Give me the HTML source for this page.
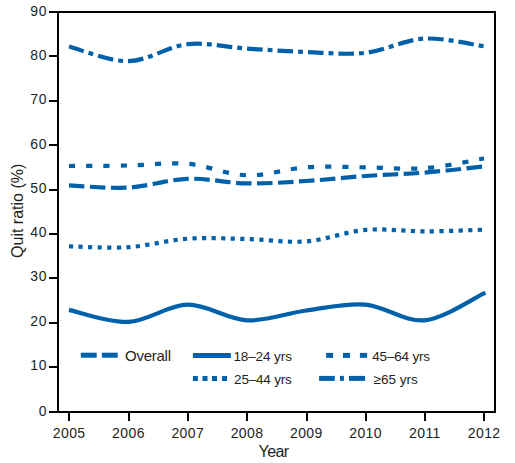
<!DOCTYPE html><html><head><meta charset="utf-8"><style>html,body{margin:0;padding:0;background:#fff;}svg{display:block;}text{font-family:"Liberation Sans",sans-serif;fill:#231f20;}</style></head><body>
<svg width="515" height="463" viewBox="0 0 515 463">
<path d="M58,12 H495 V412 H58 Z" fill="none" stroke="#000" stroke-width="2"/>
<line x1="49" y1="412.00" x2="58" y2="412.00" stroke="#000" stroke-width="2"/>
<text x="47.1" y="416" font-size="14" text-anchor="end" letter-spacing="0.6">0</text>
<line x1="49" y1="367.00" x2="58" y2="367.00" stroke="#000" stroke-width="2"/>
<text x="47.1" y="370" font-size="14" text-anchor="end" letter-spacing="0.6">10</text>
<line x1="49" y1="323.00" x2="58" y2="323.00" stroke="#000" stroke-width="2"/>
<text x="47.1" y="326" font-size="14" text-anchor="end" letter-spacing="0.6">20</text>
<line x1="49" y1="278.00" x2="58" y2="278.00" stroke="#000" stroke-width="2"/>
<text x="47.1" y="281" font-size="14" text-anchor="end" letter-spacing="0.6">30</text>
<line x1="49" y1="234.00" x2="58" y2="234.00" stroke="#000" stroke-width="2"/>
<text x="47.1" y="237" font-size="14" text-anchor="end" letter-spacing="0.6">40</text>
<line x1="49" y1="190.00" x2="58" y2="190.00" stroke="#000" stroke-width="2"/>
<text x="47.1" y="193" font-size="14" text-anchor="end" letter-spacing="0.6">50</text>
<line x1="49" y1="145.00" x2="58" y2="145.00" stroke="#000" stroke-width="2"/>
<text x="47.1" y="149" font-size="14" text-anchor="end" letter-spacing="0.6">60</text>
<line x1="49" y1="101.00" x2="58" y2="101.00" stroke="#000" stroke-width="2"/>
<text x="47.1" y="104" font-size="14" text-anchor="end" letter-spacing="0.6">70</text>
<line x1="49" y1="56.00" x2="58" y2="56.00" stroke="#000" stroke-width="2"/>
<text x="47.1" y="60" font-size="14" text-anchor="end" letter-spacing="0.6">80</text>
<line x1="49" y1="12.00" x2="58" y2="12.00" stroke="#000" stroke-width="2"/>
<text x="47.1" y="16" font-size="14" text-anchor="end" letter-spacing="0.6">90</text>
<line x1="69" y1="412" x2="69" y2="421" stroke="#000" stroke-width="2"/>
<text x="69.20" y="438.2" font-size="14" text-anchor="middle" letter-spacing="0.4">2005</text>
<line x1="129" y1="412" x2="129" y2="421" stroke="#000" stroke-width="2"/>
<text x="128.49" y="438.2" font-size="14" text-anchor="middle" letter-spacing="0.4">2006</text>
<line x1="188" y1="412" x2="188" y2="421" stroke="#000" stroke-width="2"/>
<text x="187.77" y="438.2" font-size="14" text-anchor="middle" letter-spacing="0.4">2007</text>
<line x1="247" y1="412" x2="247" y2="421" stroke="#000" stroke-width="2"/>
<text x="247.06" y="438.2" font-size="14" text-anchor="middle" letter-spacing="0.4">2008</text>
<line x1="307" y1="412" x2="307" y2="421" stroke="#000" stroke-width="2"/>
<text x="306.34" y="438.2" font-size="14" text-anchor="middle" letter-spacing="0.4">2009</text>
<line x1="366" y1="412" x2="366" y2="421" stroke="#000" stroke-width="2"/>
<text x="365.63" y="438.2" font-size="14" text-anchor="middle" letter-spacing="0.4">2010</text>
<line x1="425" y1="412" x2="425" y2="421" stroke="#000" stroke-width="2"/>
<text x="424.91" y="438.2" font-size="14" text-anchor="middle" letter-spacing="0.4">2011</text>
<line x1="484" y1="412" x2="484" y2="421" stroke="#000" stroke-width="2"/>
<text x="484.20" y="438.2" font-size="14" text-anchor="middle" letter-spacing="0.4">2012</text>
<text x="273.5" y="456.8" font-size="16" text-anchor="middle" letter-spacing="-0.6">Year</text>
<text transform="translate(23,210.8) rotate(-90)" font-size="16" text-anchor="middle">Quit ratio (%)</text>
<path d="M69.00,46.50 C78.88,48.95 108.52,61.58 128.29,61.20 C148.05,60.82 167.81,46.30 187.57,44.20 C207.33,42.10 227.10,47.30 246.86,48.60 C266.62,49.90 286.38,51.30 306.14,52.00 C325.90,52.70 345.67,55.03 365.43,52.80 C385.19,50.57 404.95,39.68 424.71,38.60 C444.48,37.52 474.12,45.02 484.00,46.30" fill="none" stroke="#0061ab" stroke-width="4.2" stroke-dasharray="15.6 5 4.9 5"/>
<path d="M69.00,166.00 C78.88,165.92 108.52,165.87 128.29,165.50 C148.05,165.13 167.81,162.17 187.57,163.80 C207.33,165.43 227.10,174.72 246.86,175.30 C266.62,175.88 286.38,168.63 306.14,167.30 C325.90,165.97 345.67,167.15 365.43,167.30 C385.19,167.45 404.95,169.67 424.71,168.20 C444.48,166.73 474.12,160.12 484.00,158.50" fill="none" stroke="#0061ab" stroke-width="4.2" stroke-dasharray="6.2 11"/>
<path d="M69.00,185.40 C78.88,185.77 108.52,188.70 128.29,187.60 C148.05,186.50 167.81,179.50 187.57,178.80 C207.33,178.10 227.10,183.03 246.86,183.40 C266.62,183.77 286.38,182.23 306.14,181.00 C325.90,179.77 345.67,177.40 365.43,176.00 C385.19,174.60 404.95,174.18 424.71,172.60 C444.48,171.02 474.12,167.52 484.00,166.50" fill="none" stroke="#0061ab" stroke-width="4.2" stroke-dasharray="15.5 5.5"/>
<path d="M69.00,246.40 C78.88,246.53 108.52,248.48 128.29,247.20 C148.05,245.92 167.81,240.07 187.57,238.70 C207.33,237.33 227.10,238.55 246.86,239.00 C266.62,239.45 286.38,242.92 306.14,241.40 C325.90,239.88 345.67,231.57 365.43,229.90 C385.19,228.23 404.95,231.43 424.71,231.40 C444.48,231.37 474.12,229.98 484.00,229.70" fill="none" stroke="#0061ab" stroke-width="4.2" stroke-dasharray="4.2 5.35"/>
<path d="M69.00,309.90 C78.88,311.90 108.52,322.77 128.29,321.90 C148.05,321.03 167.81,304.97 187.57,304.70 C207.33,304.43 227.10,319.33 246.86,320.30 C266.62,321.27 286.38,313.12 306.14,310.50 C325.90,307.88 345.67,302.97 365.43,304.60 C385.19,306.23 404.95,322.17 424.71,320.30 C444.48,318.43 474.12,297.88 484.00,293.40 l1.4,-0.65" fill="none" stroke="#0061ab" stroke-width="4.2"/>
<line x1="80.8" y1="355.2" x2="96.7" y2="355.2" stroke="#0061ab" stroke-width="5"/>
<line x1="101.8" y1="355.2" x2="117.7" y2="355.2" stroke="#0061ab" stroke-width="5"/>
<text x="125" y="361" font-size="15" letter-spacing="-0.25">Overall</text>
<line x1="192.9" y1="355.5" x2="230.9" y2="355.5" stroke="#0061ab" stroke-width="5"/>
<text x="233.4" y="360.8" font-size="13.5" letter-spacing="-0.1">18–24 yrs</text>
<line x1="192.9" y1="378.5" x2="197.9" y2="378.5" stroke="#0061ab" stroke-width="5"/>
<line x1="202.5" y1="378.5" x2="207.5" y2="378.5" stroke="#0061ab" stroke-width="5"/>
<line x1="212" y1="378.5" x2="217" y2="378.5" stroke="#0061ab" stroke-width="5"/>
<line x1="222" y1="378.5" x2="227" y2="378.5" stroke="#0061ab" stroke-width="5"/>
<text x="234.1" y="383.6" font-size="13.5" letter-spacing="-0.2">25–44 yrs</text>
<line x1="326.1" y1="355.4" x2="333.1" y2="355.4" stroke="#0061ab" stroke-width="5"/>
<line x1="343" y1="355.4" x2="350" y2="355.4" stroke="#0061ab" stroke-width="5"/>
<line x1="359.9" y1="355.4" x2="367.1" y2="355.4" stroke="#0061ab" stroke-width="5"/>
<text x="372.3" y="360.8" font-size="13.5" letter-spacing="-0.2">45–64 yrs</text>
<line x1="319.1" y1="378.4" x2="334.8" y2="378.4" stroke="#0061ab" stroke-width="5"/>
<line x1="340" y1="378.4" x2="343.9" y2="378.4" stroke="#0061ab" stroke-width="5"/>
<line x1="349" y1="378.4" x2="365.1" y2="378.4" stroke="#0061ab" stroke-width="5"/>
<text x="373.5" y="383.8" font-size="13.5">≥65 yrs</text>
</svg></body></html>
